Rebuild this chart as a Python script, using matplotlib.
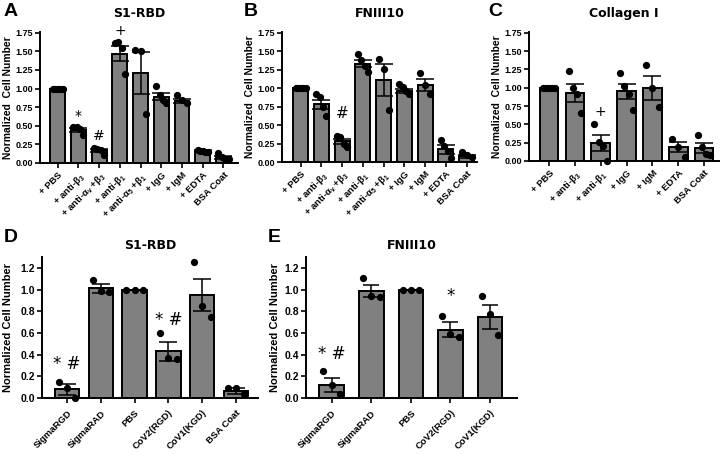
import numpy as np
import matplotlib.pyplot as plt

plt.rcParams['font.family'] = ['Liberation Sans', 'DejaVu Sans']
plt.rcParams['mathtext.fontset'] = 'custom'
plt.rcParams['mathtext.rm'] = 'Liberation Sans:bold'
plt.rcParams['mathtext.it'] = 'Liberation Sans:bold'
plt.rcParams['mathtext.bf'] = 'Liberation Sans:bold'

# ---- données ----
# A : S1-RBD
labels_a = ['+ PBS', r'+ anti-$\beta_3$', r'+ anti-$\alpha_v$ +$\beta_3$', r'+ anti-$\beta_1$',
            r'+ anti-$\alpha_5$ +$\beta_1$', '+ IgG', '+ IgM', '+ EDTA', 'BSA Coat']
mean_a = [1.0, 0.44, 0.17, 1.47, 1.21, 0.89, 0.83, 0.16, 0.08]
sem_a = [0.0, 0.03, 0.02, 0.10, 0.28, 0.05, 0.03, 0.01, 0.02]
pts_a = [[1, 1, 1, 1, 1], [0.49, 0.48, 0.46, 0.37], [0.20, 0.19, 0.18, 0.11],
         [1.61, 1.63, 1.54, 1.19], [1.52, 1.51, 0.66], [1.03, 0.91, 0.84, 0.80],
         [0.91, 0.84, 0.80], [0.17, 0.16, 0.16, 0.15, 0.15], [0.14, 0.08, 0.06, 0.05]]
ann_a = [(1, 0.63, '*'), (2, 0.36, '#'), (3, 1.77, '+')]

# B : FNIII10
labels_b = labels_a
mean_b = [1.0, 0.78, 0.28, 1.33, 1.11, 0.96, 1.04, 0.17, 0.08]
sem_b = [0.0, 0.065, 0.035, 0.05, 0.21, 0.03, 0.08, 0.06, 0.02]
pts_b = [[1, 1, 1, 1, 1], [0.92, 0.88, 0.75, 0.62], [0.35, 0.34, 0.24, 0.20],
         [1.46, 1.38, 1.30, 1.22], [1.39, 1.26, 0.71], [1.06, 1.01, 0.96, 0.92],
         [1.20, 1.04, 0.92], [0.30, 0.21, 0.15, 0.06], [0.13, 0.09, 0.07]]
ann_b = [(2, 0.66, '#')]

# C : Collagen I
labels_c = ['+ PBS', r'+ anti-$\beta_3$', r'+ anti-$\beta_1$', '+ IgG', '+ IgM', '+ EDTA', 'BSA Coat']
mean_c = [1.0, 0.93, 0.24, 0.95, 1.0, 0.19, 0.18]
sem_c = [0.0, 0.12, 0.11, 0.105, 0.165, 0.07, 0.065]
pts_c = [[1, 1, 1, 1, 1], [1.23, 1.00, 0.91, 0.65], [0.50, 0.26, 0.20, 0.0],
         [1.20, 1.02, 0.92, 0.70], [1.31, 0.99, 0.74], [0.30, 0.19, 0.06],
         [0.35, 0.19, 0.10, 0.08]]
ann_c = [(2, 0.67, '+')]

# D : S1-RBD (peptides)
labels_d = ['SigmaRGD', 'SigmaRAD', 'PBS', 'CoV2(RGD)', 'CoV1(KGD)', 'BSA Coat']
mean_d = [0.08, 1.01, 1.0, 0.43, 0.95, 0.065]
sem_d = [0.05, 0.04, 0.0, 0.085, 0.15, 0.025]
pts_d = [[0.15, 0.09, 0.0], [1.09, 0.99, 0.98], [1, 1, 1], [0.60, 0.37, 0.36],
         [1.25, 0.85, 0.75], [0.09, 0.09, 0.04]]
ann_d = [(0, 0.31, '* #'), (3, 0.72, '* #')]

# E : FNIII10 (peptides)
labels_e = ['SigmaRGD', 'SigmaRAD', 'PBS', 'CoV2(RGD)', 'CoV1(KGD)']
mean_e = [0.12, 0.99, 1.0, 0.63, 0.75]
sem_e = [0.065, 0.055, 0.0, 0.07, 0.11]
pts_e = [[0.25, 0.12, 0.04], [1.11, 0.94, 0.93], [1, 1, 1], [0.76, 0.59, 0.56],
         [0.94, 0.77, 0.58]]
ann_e = [(0, 0.41, '* #'), (3, 0.94, '*')]

W, H = 728, 454
fig = plt.figure(figsize=(W / 100, H / 100), dpi=100)


def make_axes(l, r, t, b):
    return fig.add_axes([l / W, 1 - b / H, (r - l) / W, (b - t) / H])


def panel(ax, labels, means, sems, pts, anns, title, ylim, yticks, yfmt, xlim,
          width, ytfs, xtfs, ylab, lfs, afs, tpad, lpad, xpad):
    x = np.arange(len(means))
    ax.bar(x, means, width=width, color='#808080', edgecolor='black', linewidth=1.4, zorder=2)
    ax.errorbar(x, means, yerr=sems, fmt='none', ecolor='black', elinewidth=1.1,
                capsize=width * 9, capthick=1.1, zorder=3)
    for i, p in enumerate(pts):
        n = len(p)
        offs = np.linspace(-width * 0.34, width * 0.34, n) if n > 1 else [0]
        ax.plot(i + np.array(offs), p, 'o', color='black', ms=4.2, zorder=4, clip_on=False)
    for i, y, s in anns:
        ax.text(i, y, s, ha='center', va='center', fontsize=afs, family='DejaVu Sans')
    ax.set_xlim(*xlim)
    ax.set_ylim(*ylim)
    ax.set_yticks(yticks)
    ax.set_yticklabels([yfmt % v for v in yticks], fontsize=ytfs, fontweight='bold')
    ax.set_xticks(x)
    ax.set_xticklabels(labels, rotation=45, ha='right', rotation_mode='anchor',
                       fontsize=xtfs, fontweight='bold')
    for s in ['top', 'right']:
        ax.spines[s].set_visible(False)
    for s in ['left', 'bottom']:
        ax.spines[s].set_linewidth(1.4)
    ax.tick_params(width=1.2, length=3.5, pad=1.5)
    ax.tick_params(axis='x', pad=xpad)
    ax.set_title(title, fontsize=9, fontweight='bold', family='DejaVu Sans', pad=tpad)
    ax.set_ylabel(ylab, fontsize=lfs, fontweight='bold', labelpad=lpad)


ticks_top = np.arange(0, 1.76, 0.25)
ticks_bot = np.arange(0, 1.21, 0.2)
ylab_top = 'Normalized  Cell Number'
ylab_bot = 'Normalized Cell Number'

ax_a = make_axes(40, 238, 32, 163)
panel(ax_a, labels_a, mean_a, sem_a, pts_a, ann_a, 'S1-RBD', (0, 1.76), ticks_top, '%.2f',
      (-0.85, 8.7), 0.72, 6.5, 6.8, ylab_top, 7.4, 10, 11, 2, 2)
ax_b = make_axes(282, 477, 32, 162)
panel(ax_b, labels_b, mean_b, sem_b, pts_b, ann_b, 'FNIII10', (0, 1.76), ticks_top, '%.2f',
      (-0.9, 8.5), 0.72, 6.5, 6.8, ylab_top, 7.4, 11, 11, 2, 2)
ax_c = make_axes(529, 719, 32, 161)
panel(ax_c, labels_c, mean_c, sem_c, pts_c, ann_c, 'Collagen I', (0, 1.76), ticks_top, '%.2f',
      (-0.78, 6.58), 0.72, 6.5, 6.8, ylab_top, 7.4, 10, 11, 2, 2)
ax_d = make_axes(42, 258, 257, 398)
panel(ax_d, labels_d, mean_d, sem_d, pts_d, ann_d, 'S1-RBD', (0, 1.3), ticks_bot, '%.1f',
      (-0.74, 5.65), 0.72, 7.5, 6.8, ylab_bot, 8, 12, 6, 5, 4)
ax_e = make_axes(306, 517, 257, 398)
panel(ax_e, labels_e, mean_e, sem_e, pts_e, ann_e, 'FNIII10', (0, 1.3), ticks_bot, '%.1f',
      (-0.65, 4.68), 0.62, 7.5, 6.8, ylab_bot, 8, 12, 6, 3, 4)

for s, (px, py) in zip('ABCDE', [(4, 3), (244, 3), (488, 3), (4, 229), (268, 229)]):
    fig.text(px / W, 1 - py / H, s, fontsize=14, fontweight='bold', va='top', ha='left')

plt.savefig('out.png', dpi=100)
